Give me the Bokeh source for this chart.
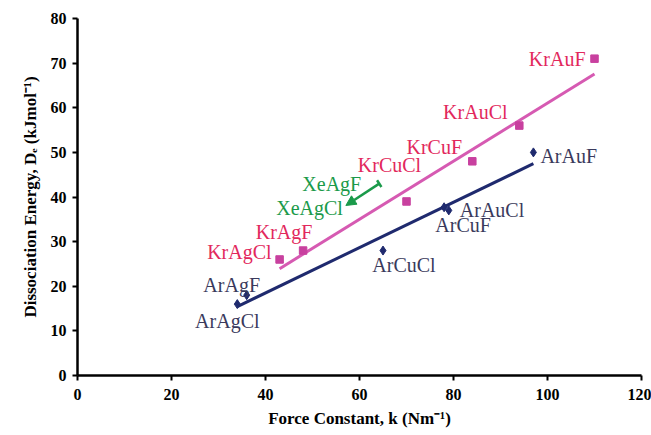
import numpy as np
from bokeh.plotting import figure
from bokeh.models import (ColumnDataSource, Range1d, FixedTicker, Arrow,
                          NormalHead, TeeHead)
from bokeh.core.properties import value
from bokeh.embed import file_html
from bokeh.resources import INLINE

# ---- data ----
ar_names = ["ArAgCl", "ArAgF", "ArCuCl", "ArCuF", "ArAuCl", "ArAuF"]
ar_k = [34, 36, 65, 78, 79, 97]
ar_d = [16, 18, 28, 37.7, 37, 50]

kr_names = ["KrAgCl", "KrAgF", "KrCuCl", "KrCuF", "KrAuCl", "KrAuF"]
kr_k = [43, 48, 70, 84, 94, 110]
kr_d = [26, 28, 39, 48, 56, 71]

xe_names = ["XeAgF", "XeAgCl"]
xe_k = [64.2, 57.1]
xe_d = [43.0, 38.1]

x_ticks = [0, 20, 40, 60, 80, 100, 120]
y_ticks = [0, 10, 20, 30, 40, 50, 60, 70, 80]

# ---- label placement (screen pixel offsets, style only) ----
ar_dx = [-10, -15, 21, 19, 11, 7]
ar_dy = [17, -10, 14, 18, 0, 4]
ar_align = ["center", "center", "center", "center", "left", "left"]
kr_dx = [-8, -19, -17, -38, -44, -9]
kr_dy = [-7, -19, -36, -14, -14, 0]
kr_align = ["right", "center", "center", "center", "center", "right"]
xe_dx = [-18, -3]
xe_dy = [0, 3]

NAVY = "#1f2a6e"
AR_TXT = "#3a3a5c"
PINK_LINE = "#d65ab2"
PINK_PT = "#c8409f"
KR_TXT = "#e2285c"
GREEN = "#1a9a4a"
FONT = "Liberation Serif"

p = figure(width=651, height=435, output_backend="svg", toolbar_location=None,
           x_range=Range1d(0, 120), y_range=Range1d(0, 80))
p.min_border_left = 77
p.min_border_right = 10
p.min_border_top = 18
p.min_border_bottom = 60
p.outline_line_color = None
p.grid.visible = False
p.background_fill_color = "white"

for ax in (p.xaxis[0], p.yaxis[0]):
    ax.axis_line_width = 2.5
    ax.axis_line_color = "black"
    ax.major_tick_line_width = 2
    ax.major_tick_line_color = "black"
    ax.major_tick_in = 0
    ax.major_tick_out = 5
    ax.minor_tick_line_color = None
    ax.major_label_text_font = FONT
    ax.major_label_text_font_style = "bold"
    ax.major_label_text_font_size = "16px"
    ax.major_label_text_color = "black"
    ax.axis_label_text_font = FONT
    ax.axis_label_text_font_style = "bold"
    ax.axis_label_text_font_size = "17px"
    ax.axis_label_text_color = "black"

p.xaxis[0].ticker = FixedTicker(ticks=x_ticks)
p.yaxis[0].ticker = FixedTicker(ticks=y_ticks)
p.xaxis[0].axis_label = "Force Constant, k (Nm\u207b\u00b9)"
p.yaxis[0].axis_label = "Dissociation Energy, D\u2091 (kJmol\u207b\u00b9)"
p.xaxis[0].major_label_standoff = 8
p.yaxis[0].major_label_standoff = 6
p.xaxis[0].axis_label_standoff = 6
p.yaxis[0].axis_label_standoff = 8

# trendlines (least squares over each series)
ka = np.array(ar_k, float); da = np.array(ar_d, float)
kk = np.array(kr_k, float); dk = np.array(kr_d, float)
ma, ba = np.polyfit(ka, da, 1)
mk, bk = np.polyfit(kk, dk, 1)
xa = [ka.min(), ka.max()]
xk = [kk.min(), kk.max()]
p.line(xa, [ma * v + ba for v in xa], line_color=NAVY, line_width=3)
p.line(xk, [mk * v + bk for v in xk], line_color=PINK_LINE, line_width=3)

ar_src = ColumnDataSource(dict(k=ar_k, d=ar_d, name=ar_names, dx=ar_dx,
                               dy=ar_dy, al=ar_align))
kr_src = ColumnDataSource(dict(k=kr_k, d=kr_d, name=kr_names, dx=kr_dx,
                               dy=kr_dy, al=kr_align))
xe_src = ColumnDataSource(dict(k=xe_k, d=xe_d, name=xe_names, dx=xe_dx,
                               dy=xe_dy))

p.scatter("k", "d", source=ar_src, marker="diamond", size=9,
          fill_color=NAVY, line_color=NAVY)
p.scatter("k", "d", source=kr_src, marker="square", size=7.5,
          fill_color=PINK_PT, line_color=PINK_PT)

p.text("k", "d", text="name", source=ar_src, x_offset="dx", y_offset="dy",
       text_align="al", text_baseline="middle", text_color=AR_TXT,
       text_font=value(FONT), text_font_size="20px")
p.text("k", "d", text="name", source=kr_src, x_offset="dx", y_offset="dy",
       text_align="al", text_baseline="middle", text_color=KR_TXT,
       text_font=value(FONT), text_font_size="20px")
p.text("k", "d", text="name", source=xe_src, x_offset="dx", y_offset="dy",
       text_align="right", text_baseline="middle", text_color=GREEN,
       text_font=value(FONT), text_font_size="20px")

p.add_layout(Arrow(x_start=xe_k[0], y_start=xe_d[0],
                   x_end=xe_k[1], y_end=xe_d[1],
                   line_color=GREEN, line_width=2.5,
                   start=TeeHead(size=8, line_color=GREEN, line_width=2.5),
                   end=NormalHead(size=10, fill_color=GREEN,
                                  line_color=GREEN)))

open("out.html", "w").write(file_html(p, INLINE))
